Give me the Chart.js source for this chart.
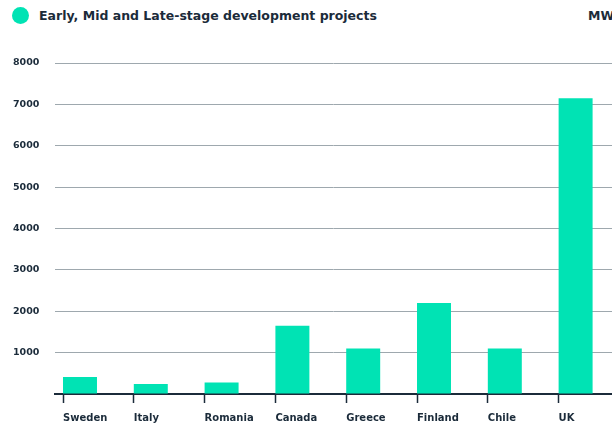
<!DOCTYPE html>
<html>
<head>
<meta charset="utf-8">
<script src="https://cdn.jsdelivr.net/npm/chart.js@4.4.1/dist/chart.umd.min.js"></script>
<style>
  html, body { margin: 0; padding: 0; background: #fff; }
  #wrap { position: relative; width: 612px; height: 425px; overflow: hidden; }
  #chart { position: absolute; left: 0; top: 0; }
  .dot { position: absolute; left: 12px; top: 7px; width: 17px; height: 17px; border-radius: 50%; background: #00e3b4; }
  .title, .unit { position: absolute; top: 8px; line-height: 15px; font-family: "DejaVu Sans", sans-serif;
    font-weight: 700; font-size: 12.5px; color: #1b2b3a; white-space: nowrap; }
  .title { left: 39px; }
  .unit { left: 588px; }
</style>
</head>
<body>
<div id="wrap">
  <span class="dot"></span>
  <div class="title">Early, Mid and Late-stage development projects</div>
  <div class="unit">MW</div>
  <canvas id="chart" width="612" height="425"></canvas>
</div>
<script>
// data
let countries = ["Sweden", "Italy", "Romania", "Canada", "Greece", "Finland", "Chile", "UK"];
let capacity = [410, 240, 280, 1650, 1100, 2200, 1100, 7150];
let yTicks = [0, 1000, 2000, 3000, 4000, 5000, 6000, 7000, 8000];

let barColor = "#00e3b4";
let textColor = "#1b2b3a";
let barPct = 0.48;

let ctx = document.getElementById("chart").getContext("2d");
let myChart = new Chart(ctx, {
  type: "bar",
  data: {
    datasets: [
      {
        label: "Early, Mid and Late-stage development projects",
        data: capacity.map((v, i) => ({ x: i, y: v })),
        backgroundColor: barColor,
        borderWidth: 0,
        categoryPercentage: 1,
        barPercentage: barPct,
      },
    ],
  },
  options: {
    animation: false,
    responsive: false,
    layout: { padding: { left: 13, top: 63, right: 0, bottom: 0 } },
    plugins: { legend: { display: false }, tooltip: { enabled: false } },
    scales: {
      x: {
        type: "linear",
        offset: false,
        bounds: "data",
        min: -0.353,
        max: 7.514,
        afterBuildTicks: (scale) => {
          // tick marks sit at the left edge of each bar
          scale.ticks = countries.map((c, i) => ({ value: i - barPct / 2 }));
        },
        afterFit: (scale) => {
          scale.height = 31;
        },
        ticks: {
          autoSkip: false,
          maxRotation: 0,
          align: "start",
          padding: 9,
          color: textColor,
          font: { family: "DejaVu Sans", weight: "bold", size: 10 },
          callback: (v, idx) => countries[idx],
        },
        grid: {
          offset: false,
          drawOnChartArea: false,
          drawTicks: true,
          tickLength: 9,
          tickWidth: 1.5,
          tickColor: textColor,
        },
        border: { display: true, color: textColor, width: 2 },
      },
      y: {
        min: 0,
        max: 8000,
        afterBuildTicks: (scale) => {
          scale.ticks = yTicks.map((v) => ({ value: v }));
        },
        afterFit: (scale) => {
          scale.width = 42;
        },
        ticks: {
          crossAlign: "far",
          color: textColor,
          font: { family: "DejaVu Sans", weight: "bold", size: 9.5 },
          callback: (v) => (v === 0 ? "" : v),
        },
        grid: { color: "#9ea8ae", lineWidth: 1, drawTicks: false },
        border: { display: false },
      },
    },
  },
});
</script>
</body>
</html>
